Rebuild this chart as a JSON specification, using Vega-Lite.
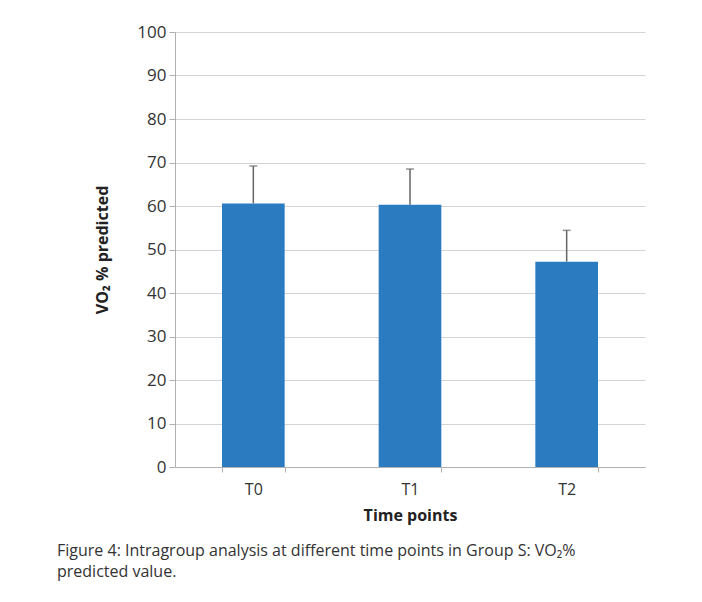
{
  "$schema": "https://vega.github.io/schema/vega-lite/v6.json",
  "width": 470,
  "height": 435,
  "autosize": {"type": "none"},
  "padding": {"left": 175, "top": 32, "right": 57, "bottom": 135},
  "background": "white",
  "config": {
    "view": {"stroke": null},
    "font": "Open Sans",
    "axis": {"labelFont": "Open Sans", "titleFont": "Open Sans"}
  },
  "title": {
    "text": ["Figure 4: Intragroup analysis at different time points in Group S: VO₂%", "predicted value."],
    "orient": "bottom",
    "anchor": "start",
    "frame": "group",
    "dx": -118,
    "offset": 20,
    "fontSize": 16,
    "fontWeight": "normal",
    "font": "Open Sans",
    "color": "#333333",
    "lineHeight": 21
  },
  "data": {
    "values": [
      {"time": "T0", "value": 60.6, "upper": 69.2},
      {"time": "T1", "value": 60.3, "upper": 68.5},
      {"time": "T2", "value": 47.2, "upper": 54.4}
    ]
  },
  "encoding": {
    "x": {
      "field": "time",
      "type": "nominal",
      "scale": {"paddingInner": 0.6, "paddingOuter": 0.3},
      "axis": {
        "title": "Time points",
        "titleFontSize": 16,
        "titleFontWeight": "bold",
        "titleColor": "#222222",
        "titlePadding": 10,
        "labelAngle": 0,
        "labelFontSize": 16,
        "labelColor": "#333333",
        "labelPadding": 9,
        "domainColor": "#b0b0b0",
        "tickColor": "#b0b0b0",
        "tickBand": "extent",
        "tickSize": 5,
        "grid": false
      }
    }
  },
  "layer": [
    {
      "mark": {"type": "bar", "color": "#2a7bbf"},
      "encoding": {
        "y": {
          "field": "value",
          "type": "quantitative",
          "scale": {"domain": [0, 100]},
          "axis": {
            "title": "VO₂  % predicted",
            "titleFontSize": 16,
            "titleFontWeight": "bold",
            "titleColor": "#222222",
            "titlePadding": 26,
            "values": [0, 10, 20, 30, 40, 50, 60, 70, 80, 90, 100],
            "labelFontSize": 17,
            "labelColor": "#333333",
            "labelPadding": 3,
            "tickSize": 6,
            "tickColor": "#b0b0b0",
            "domainColor": "#b0b0b0",
            "gridColor": "#d4d4d4",
            "gridWidth": 1.2
          }
        }
      }
    },
    {
      "mark": {"type": "rule", "color": "#666666", "strokeWidth": 1.5},
      "encoding": {
        "y": {"field": "value", "type": "quantitative"},
        "y2": {"field": "upper"}
      }
    },
    {
      "mark": {"type": "tick", "color": "#666666", "size": 8, "thickness": 1.5},
      "encoding": {
        "y": {"field": "upper", "type": "quantitative"}
      }
    }
  ]
}
